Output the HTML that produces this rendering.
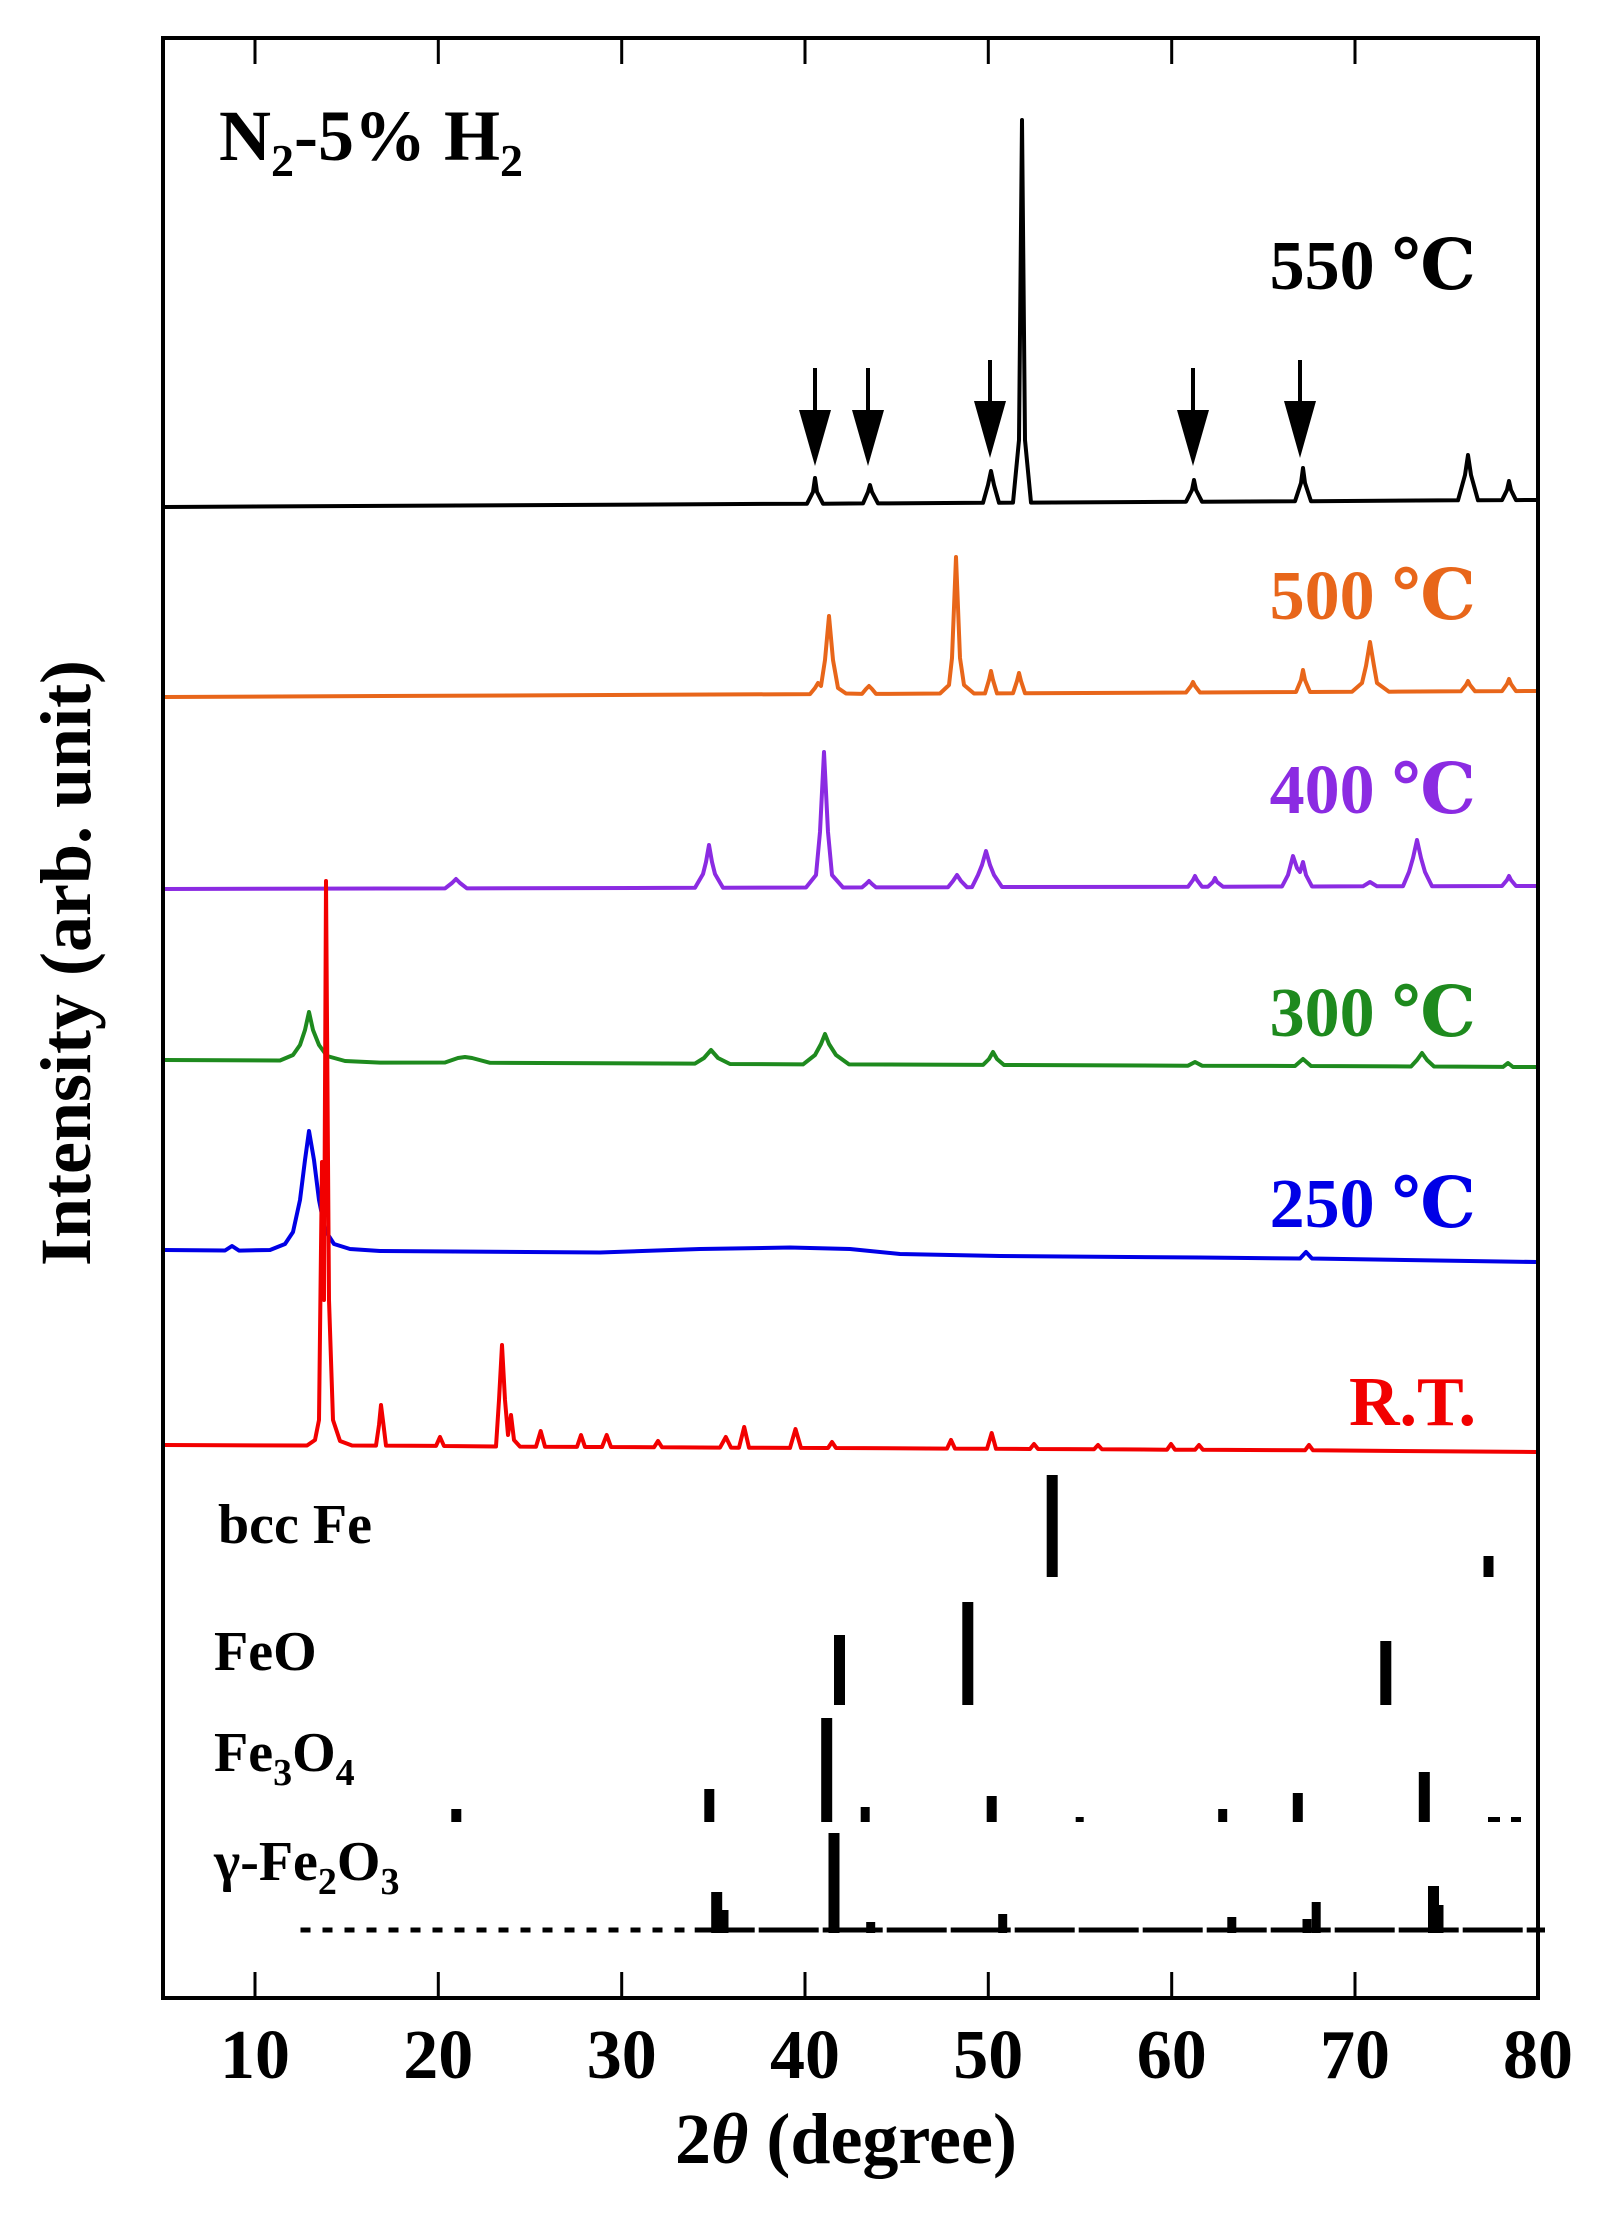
<!DOCTYPE html>
<html><head><meta charset="utf-8"><style>
html,body{margin:0;padding:0;background:#fff;}
svg{display:block;}
text{font-family:"Liberation Serif","DejaVu Serif",serif;font-weight:bold;}
</style></head><body>
<svg width="1606" height="2217" viewBox="0 0 1606 2217" xmlns="http://www.w3.org/2000/svg">
<rect width="1606" height="2217" fill="#fff"/>
<g fill="none" stroke-width="4" stroke-linejoin="round">
<path stroke="#000" d="M165 507 L807 503.7 L813 492 L815 478 L817 492 L823 503.7 L863 503.4 L868 492 L870 485 L872 492 L878 503.4 L983 502.8 L988 485 L991 471 L994 485 L999 502.8 L1013 502.6 L1019 440 L1022 120 L1025 440 L1031 502.6 L1186 501.7 L1192 490 L1194 480 L1196 490 L1202 501.7 L1295 501.2 L1301 483 L1303 468 L1305 483 L1311 501.2 L1458 500.3 L1465 475 L1468 455 L1471 475 L1478 500.3 L1502 500.1 L1507 490 L1509 481 L1511 490 L1516 500.1 L1536 500"/>
<path stroke="#E8661A" d="M165 697 L810 694.1 L815 688 L818 683 L821 686 L825 660 L829 616 L833 660 L838 688 L846 693.5 L862 693.9 L866 689 L869 686 L872 689 L876 693.9 L940 693.5 L949 685 L952 658 L956 557 L960 658 L964 685 L974 693.5 L985 693.4 L989 680 L991 671 L993 680 L997 693.4 L1013 693.3 L1017 681 L1019 673 L1021 681 L1025 693.3 L1186 692.5 L1191 686 L1193 682 L1195 686 L1200 692.5 L1296 692 L1301 680 L1303 670 L1305 680 L1310 692 L1352 691.7 L1362 683 L1366 666 L1370 642 L1374 666 L1377 683 L1389 691.7 L1461 691.3 L1466 685 L1468 681 L1470 685 L1475 691.3 L1502 691.1 L1507 684 L1509 679 L1511 684 L1516 691.1 L1536 691"/>
<path stroke="#8B2BE2" d="M165 889 L445 888.4 L452 883 L456 879 L460 883 L467 888.4 L695 887.8 L703 874 L706 862 L709 845 L712 862 L715 874 L723 887.8 L806 887.5 L816 875 L820 832 L824 752 L828 832 L832 875 L843 887.5 L862 887.4 L866 884 L869 881 L872 884 L876 887.4 L948 887.2 L953 881 L957 875 L961 881 L967 887.2 L972 887.1 L978 875 L982 865 L986 851 L990 865 L994 875 L1002 887 L1188 886.8 L1193 880 L1195 876 L1197 880 L1202 886.7 L1208 886.7 L1213 882 L1215 878 L1217 882 L1223 886.7 L1282 886.5 L1288 875 L1293 856 L1297 868 L1300 872 L1303 862 L1306 875 L1312 886.5 L1363 886.3 L1370 882 L1377 886.3 L1403 886.2 L1409 872 L1413 858 L1417 840 L1421 858 L1425 872 L1432 886.2 L1502 886 L1507 880 L1509 876 L1511 880 L1516 886 L1536 886"/>
<path stroke="#1E8A1E" d="M165 1060 L280 1060.5 L293 1055 L300 1045 L305 1030 L309 1012 L313 1030 L319 1045 L327 1056 L345 1061 L380 1062.6 L445 1062.5 L458 1058 L465 1057 L472 1058 L490 1062.8 L695 1063.6 L704 1058 L711 1050 L718 1058 L730 1064 L803 1064.4 L815 1055 L821 1044 L825 1034 L829 1044 L836 1055 L849 1064.4 L983 1064.9 L989 1059 L993 1052 L997 1059 L1004 1065 L1188 1065.7 L1195 1062 L1202 1065.7 L1295 1066 L1303 1059 L1311 1066 L1411 1066.5 L1417 1060 L1422 1053 L1427 1060 L1434 1066.5 L1503 1066.9 L1508 1063 L1513 1067 L1536 1067"/>
<path stroke="#0000E6" d="M165 1250 L225 1250.5 L232 1246 L239 1250.6 L270 1250 L285 1244 L293 1232 L300 1200 L305 1160 L309 1131 L314 1160 L319 1200 L325 1230 L334 1244 L350 1249 L380 1251 L600 1252.5 L700 1249 L790 1247.5 L850 1249 L900 1254 L1000 1256 L1200 1257.5 L1300 1258.5 L1306 1252 L1312 1258.5 L1536 1262"/>
<path stroke="#F20000" d="M165 1445 L307 1445.5 L315 1440 L319 1420 L322 1162 L324 1300 L326 881 L329 1300 L333 1420 L340 1441 L352 1445.5 L376 1445.6 L379 1425 L381 1405 L383.5 1425 L386 1445.6 L436 1445.9 L440 1437 L444 1446 L496 1446.5 L499 1400 L502 1345 L505 1400 L508 1435 L511 1415 L514 1440 L520 1446.6 L536 1446.7 L540.7 1431 L545 1446.7 L577 1446.9 L581 1435 L585 1447 L602 1447 L606.7 1435 L611 1447 L654 1447.3 L658 1441 L662 1447.3 L720 1447.6 L725.8 1437 L731 1447.6 L739 1447.7 L744.2 1427 L749 1447.7 L790 1447.9 L795.5 1429 L801 1447.9 L828 1448 L832 1442 L836 1448 L947 1448.6 L951 1440 L955 1448.6 L987 1448.8 L991.7 1433 L996 1448.8 L1030 1449 L1034 1444 L1038 1449 L1094 1449.3 L1098 1445 L1102 1449.3 L1167 1449.7 L1171 1444 L1175 1449.7 L1195 1449.8 L1199 1445 L1203 1449.8 L1305 1450.3 L1309 1445 L1313 1450.3 L1536 1452"/>
</g>
<g fill="#000">
<rect x="1046.7" y="1475" width="11" height="102"/>
<rect x="1483.5" y="1556" width="10" height="21"/>
<rect x="834" y="1635" width="11" height="70"/>
<rect x="962.3" y="1602" width="11" height="103"/>
<rect x="1380.3" y="1641" width="11" height="64"/>
<rect x="451.3" y="1809" width="10" height="13"/>
<rect x="704.3" y="1789" width="10" height="33"/>
<rect x="821.2" y="1718" width="11" height="104"/>
<rect x="860.7" y="1807" width="9" height="15"/>
<rect x="986.7" y="1796" width="10" height="26"/>
<rect x="1218.2" y="1809" width="9" height="13"/>
<rect x="1292.8" y="1793" width="10" height="29"/>
<rect x="1418.8" y="1772" width="11" height="50"/>
<rect x="1075.7" y="1817" width="8" height="5"/>
<rect x="1488" y="1817" width="12" height="5"/>
<rect x="1511" y="1817" width="10" height="5"/>
<rect x="711.2" y="1892" width="11" height="41"/>
<rect x="719.5" y="1910" width="9" height="23"/>
<rect x="828.5" y="1833" width="11" height="100"/>
<rect x="866.2" y="1922" width="9" height="11"/>
<rect x="998.2" y="1914" width="9" height="19"/>
<rect x="1227.3" y="1917" width="9" height="16"/>
<rect x="1302.5" y="1919" width="9" height="14"/>
<rect x="1311.7" y="1902" width="9" height="31"/>
<rect x="1428" y="1886" width="11" height="47"/>
<rect x="1434.5" y="1905" width="9" height="28"/>
</g>
<line x1="300.5" y1="1930" x2="694.7" y2="1930" stroke="#000" stroke-width="5" stroke-dasharray="10 12"/>
<line x1="694.7" y1="1930" x2="1545" y2="1930" stroke="#000" stroke-width="5" stroke-dasharray="60 4"/>
<rect x="163" y="38" width="1375" height="1960" fill="none" stroke="#000" stroke-width="4"/>
<g stroke="#000" stroke-width="3">
<line x1="255" y1="38" x2="255" y2="64"/><line x1="438.3" y1="38" x2="438.3" y2="64"/><line x1="621.7" y1="38" x2="621.7" y2="64"/><line x1="805" y1="38" x2="805" y2="64"/><line x1="988.3" y1="38" x2="988.3" y2="64"/><line x1="1171.7" y1="38" x2="1171.7" y2="64"/><line x1="1355" y1="38" x2="1355" y2="64"/>
<line x1="255" y1="1998" x2="255" y2="1972"/><line x1="438.3" y1="1998" x2="438.3" y2="1972"/><line x1="621.7" y1="1998" x2="621.7" y2="1972"/><line x1="805" y1="1998" x2="805" y2="1972"/><line x1="988.3" y1="1998" x2="988.3" y2="1972"/><line x1="1171.7" y1="1998" x2="1171.7" y2="1972"/><line x1="1355" y1="1998" x2="1355" y2="1972"/>
</g>
<g font-size="70" text-anchor="middle">
<text x="255" y="2078">10</text><text x="438.3" y="2078">20</text><text x="621.7" y="2078">30</text><text x="805" y="2078">40</text><text x="988.3" y="2078">50</text><text x="1171.7" y="2078">60</text><text x="1355" y="2078">70</text><text x="1538" y="2078">80</text>
</g>
<text x="846" y="2163" font-size="72" text-anchor="middle">2<tspan font-style="italic">θ</tspan> (degree)</text>
<text transform="translate(90,963) rotate(-90)" font-size="72" text-anchor="middle">Intensity (arb. unit)</text>
<text x="219" y="160" font-size="72">N<tspan font-size="46" dy="16">2</tspan><tspan dy="-16">-5% H</tspan><tspan font-size="46" dy="16">2</tspan></text>
<g font-size="70" text-anchor="end">
<text x="1476" y="289" fill="#000">550 ℃</text>
<text x="1476" y="619" fill="#E8661A">500 ℃</text>
<text x="1476" y="813" fill="#8B2BE2">400 ℃</text>
<text x="1476" y="1036" fill="#1E8A1E">300 ℃</text>
<text x="1476" y="1227" fill="#0000E6">250 ℃</text>
<text x="1476" y="1425" fill="#F20000">R.T.</text>
</g>
<g font-size="56">
<text x="218" y="1543">bcc Fe</text>
<text x="214" y="1670">FeO</text>
<text x="214" y="1771">Fe<tspan font-size="38" dy="14">3</tspan><tspan dy="-14">O</tspan><tspan font-size="38" dy="14">4</tspan></text>
<text x="214" y="1880">γ-Fe<tspan font-size="38" dy="14">2</tspan><tspan dy="-14">O</tspan><tspan font-size="38" dy="14">3</tspan></text>
</g>
<g stroke="#000" stroke-width="4" fill="#000">
<line x1="815" y1="368" x2="815" y2="420"/><polygon points="799,410 831,410 815,466" stroke="none"/>
<line x1="868" y1="368" x2="868" y2="420"/><polygon points="852,410 884,410 868,466" stroke="none"/>
<line x1="990" y1="360" x2="990" y2="410"/><polygon points="974,401 1006,401 990,458" stroke="none"/>
<line x1="1193" y1="368" x2="1193" y2="420"/><polygon points="1177,410 1209,410 1193,466" stroke="none"/>
<line x1="1300" y1="360" x2="1300" y2="410"/><polygon points="1284,401 1316,401 1300,458" stroke="none"/>
</g>
</svg>
</body></html>
